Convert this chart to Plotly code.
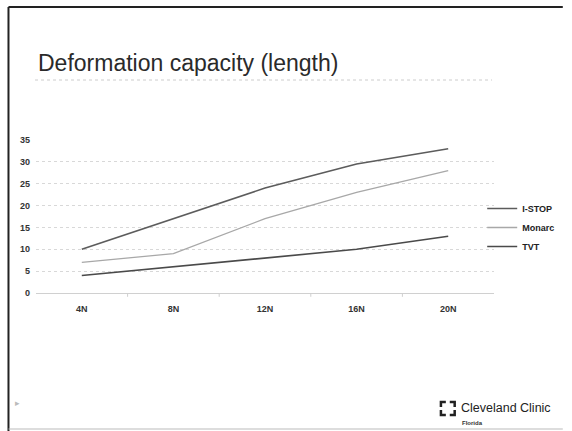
import plotly.graph_objects as go

categories = ["4N", "8N", "12N", "16N", "20N"]
istop = [10, 17, 24, 29.5, 33]
monarc = [7, 9, 17, 23, 28]
tvt = [4, 6, 8, 10, 13]
y_ticks = [0, 5, 10, 15, 20, 25, 30, 35]

W, H = 572, 431
L, R, T, B = 36, 70, 140, 138
PW = W - L - R
PH = H - T - B

def px(x):
    return (x - L) / PW

def py(y):
    return (H - B - y) / PH

fig = go.Figure()
series = [
    ("I-STOP", istop, "#5c5c5c", 1.6),
    ("Monarc", monarc, "#a8a8a8", 1.3),
    ("TVT", tvt, "#4a4a4a", 1.6),
]
for name, vals, col, w in series:
    fig.add_trace(go.Scatter(x=categories, y=vals, name=name, mode="lines",
                             line=dict(color=col, width=w)))

font = "Liberation Sans, Arial, sans-serif"
fig.update_layout(
    width=W, height=H,
    margin=dict(l=L, r=R, t=T, b=B),
    paper_bgcolor="white", plot_bgcolor="white",
    font=dict(family=font, color="#222"),
    showlegend=True,
    legend=dict(x=px(490), y=py(194), xanchor="left", yanchor="top",
                font=dict(size=9, family=font, weight="bold", color="#222"),
                bgcolor="rgba(0,0,0,0)", itemwidth=30, tracegroupgap=0),
    xaxis=dict(type="category", range=[-0.5, 4.5], showgrid=False,
               showline=True, linecolor="#d0d0d0", linewidth=1,
               ticks="", tickfont=dict(size=9, weight="bold", color="#333"),
               ticklabelstandoff=7, zeroline=False),
    yaxis=dict(range=[0, 35], tickvals=y_ticks, showgrid=True,
               gridcolor="#d8d8d8", griddash="dot", gridwidth=1,
               showline=False, zeroline=False, ticks="",
               ticklabelstandoff=5,
               tickfont=dict(size=9, weight="bold", color="#333")),
)

# category separators (tick marks on the x axis)
for b in [0.5, 1.5, 2.5, 3.5]:
    fig.add_shape(type="line", xref="x", yref="paper", x0=b, x1=b,
                  y0=0, y1=-0.025, line=dict(color="#cfcfcf", width=1))

# slide frame
fig.add_shape(type="line", xref="paper", yref="paper", x0=px(8), x1=px(572),
              y0=py(7), y1=py(7), line=dict(color="#222", width=2))
fig.add_shape(type="line", xref="paper", yref="paper", x0=px(8), x1=px(8),
              y0=py(7), y1=py(431), line=dict(color="#222", width=2))
fig.add_shape(type="line", xref="paper", yref="paper", x0=px(8), x1=px(572),
              y0=py(429), y1=py(429), line=dict(color="#bbb", width=1))

# title
fig.add_annotation(text="Deformation capacity (length)", xref="paper", yref="paper",
                   x=px(36), y=py(63), xanchor="left", yanchor="middle",
                   showarrow=False, font=dict(size=23, family=font, color="#2a2a2a"))
fig.add_shape(type="line", xref="paper", yref="paper", x0=px(35), x1=px(500),
              y0=py(80), y1=py(80), line=dict(color="#cccccc", width=1, dash="dot"))

# small arrow bottom left
fig.add_annotation(text="▸", xref="paper", yref="paper", x=px(13), y=py(410),
                   showarrow=False, font=dict(size=9, color="#bbbbbb"))

# Cleveland Clinic logo
lc = dict(color="#222", width=2.5)
def bracket(x0, y0, dx, dy):
    fig.add_shape(type="path", xref="paper", yref="paper",
                  path=f"M {px(x0+dx)} {py(y0)} L {px(x0)} {py(y0)} L {px(x0)} {py(y0+dy)}",
                  line=lc)
bracket(448, 402, 5, 5)
bracket(462, 402, -5, 5)
bracket(448, 415, 5, -5)
bracket(462, 415, -5, -5)
fig.add_annotation(text="Cleveland Clinic", xref="paper", yref="paper",
                   x=px(466), y=py(408), xanchor="left", yanchor="middle",
                   showarrow=False, font=dict(size=12.5, family=font, color="#222"))
fig.add_annotation(text="Florida", xref="paper", yref="paper",
                   x=px(467), y=py(423), xanchor="left", yanchor="middle",
                   showarrow=False, font=dict(size=6, family=font, weight="bold", color="#333"))

fig.write_html("out.html")
